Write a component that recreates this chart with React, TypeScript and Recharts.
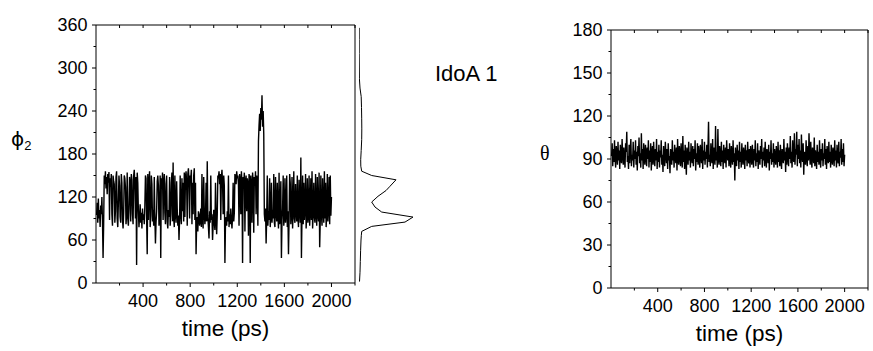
import React from "react";
import { LineChart, Line, XAxis, YAxis } from "recharts";

const FONT = '"Liberation Sans", Arial, sans-serif';

// sampling step of both trajectories (ps)
const TIME_STEP = 5;

// phi2 trajectory, 5 ps per value, 5..2000 ps
const phiValues = [
  95, 112, 84, 118, 90, 102, 78, 108, 96, 120, 88, 35, 82, 150, 138, 156, 132, 148, 124, 152,
  140, 155, 88, 146, 134, 152, 96, 80, 150, 142, 138, 84, 100, 148, 156, 90, 78, 112, 150, 136,
  92, 84, 152, 140, 88, 76, 98, 150, 146, 134, 82, 96, 154, 90, 80, 102, 148, 140, 86, 152,
  144, 96, 82, 150, 158, 138, 90, 148, 25, 154, 140, 100, 78, 92, 110, 84, 98, 76, 104, 88,
  96, 82, 108, 150, 146, 90, 40, 152, 88, 140, 156, 78, 94, 150, 138, 86, 102, 80, 148, 92,
  55, 84, 100, 142, 150, 136, 80, 96, 150, 35, 146, 132, 154, 88, 140, 152, 98, 82, 138, 150,
  86, 76, 102, 92, 148, 80, 96, 140, 154, 86, 168, 90, 78, 150, 98, 84, 142, 104, 80, 94,
  60, 88, 150, 96, 82, 146, 100, 140, 86, 154, 92, 148, 156, 138, 80, 152, 160, 142, 90, 150,
  146, 158, 82, 140, 96, 150, 160, 88, 140, 40, 84, 92, 72, 100, 96, 80, 88, 104, 78, 152,
  90, 76, 148, 98, 82, 92, 140, 86, 170, 94, 78, 62, 100, 84, 150, 88, 96, 60, 80, 102,
  86, 74, 140, 92, 68, 96, 150, 146, 156, 138, 152, 88, 148, 158, 140, 96, 150, 136, 28, 84,
  92, 80, 100, 86, 150, 78, 96, 82, 104, 88, 76, 94, 140, 86, 98, 152, 148, 138, 156, 146,
  150, 138, 80, 152, 144, 96, 156, 140, 28, 148, 136, 154, 72, 142, 150, 100, 146, 138, 66, 152,
  146, 28, 150, 138, 84, 154, 142, 70, 148, 136, 156, 96, 150, 140, 80, 198, 220, 236, 212, 244,
  228, 262, 218, 240, 208, 96, 86, 104, 55, 92, 150, 80, 100, 88, 146, 78, 96, 140, 84, 102,
  90, 152, 84, 78, 148, 100, 86, 140, 96, 76, 154, 82, 98, 142, 35, 88, 104, 150, 80, 92,
  146, 84, 96, 150, 78, 100, 40, 88, 152, 140, 82, 96, 148, 76, 104, 156, 90, 84, 138, 100,
  86, 150, 92, 78, 144, 100, 84, 175, 35, 96, 150, 82, 140, 88, 104, 152, 76, 98, 146, 84,
  94, 150, 80, 102, 146, 88, 156, 76, 98, 140, 92, 84, 152, 100, 80, 148, 96, 86, 154, 50,
  88, 150, 96, 80, 146, 102, 84, 156, 90, 140, 78, 98, 152, 86, 104, 148, 82, 150, 94, 120,
];

// theta trajectory, 5 ps per value, 5..2000 ps
const thetaValues = [
  92, 101, 85, 97, 88, 103, 90, 84, 99, 94, 86, 102, 89, 96, 83, 100, 91, 87, 104, 93,
  86, 98, 90, 84, 101, 95, 109, 88, 92, 83, 100, 87, 97, 104, 85, 93, 89, 102, 84, 96,
  90, 103, 86, 95, 82, 99, 92, 105, 87, 94, 84, 108, 89, 97, 83, 101, 91, 86, 100, 93,
  85, 98, 90, 103, 84, 96, 88, 101, 82, 94, 99, 86, 102, 91, 85, 97, 89, 104, 83, 95,
  88, 100, 84, 96, 91, 103, 86, 93, 81, 99, 90, 85, 102, 94, 87, 97, 83, 101, 89, 92,
  80, 97, 91, 86, 103, 89, 95, 84, 100, 92, 87, 98, 82, 104, 90, 86, 99, 93, 85, 101,
  91, 84, 106, 88, 96, 83, 100, 90, 79, 98, 93, 86, 102, 89, 95, 84, 101, 92, 87, 99,
  85, 97, 90, 103, 82, 94, 88, 101, 86, 99, 91, 84, 100, 93, 87, 104, 83, 96, 89, 102,
  86, 95, 90, 100, 84, 97, 116, 88, 93, 85, 101, 91, 87, 104, 83, 98, 92, 86, 113, 89,
  95, 84, 111, 90, 86, 99, 93, 85, 102, 88, 96, 83, 100, 91, 87, 98, 84, 103, 92, 89,
  97, 85, 101, 90, 84, 99, 92, 86, 103, 88, 94, 75, 98, 91, 85, 100, 89, 96, 83, 102,
  88, 95, 84, 101, 91, 86, 98, 93, 83, 100, 89, 96, 85, 102, 90, 87, 97, 84, 99, 92,
  86, 100, 91, 84, 97, 89, 103, 85, 94, 88, 101, 83, 96, 92, 86, 99, 90, 104, 84, 95,
  89, 98, 85, 102, 91, 84, 97, 93, 87, 100, 82, 95, 90, 103, 86, 94, 88, 101, 84, 97,
  91, 86, 99, 93, 84, 102, 88, 96, 85, 100, 90, 83, 97, 92, 87, 104, 89, 95, 81, 98,
  86, 101, 92, 85, 98, 90, 106, 87, 95, 84, 103, 91, 88, 108, 86, 97, 93, 109, 85, 100,
  90, 104, 87, 96, 84, 107, 92, 88, 101, 79, 95, 90, 86, 103, 92, 85, 99, 89, 108, 94,
  86, 102, 90, 84, 98, 92, 87, 105, 85, 96, 91, 83, 100, 88, 95, 86, 103, 90, 84, 97,
  89, 101, 85, 94, 90, 104, 86, 97, 83, 99, 92, 87, 102, 88, 95, 84, 100, 91, 86, 98,
  92, 85, 103, 89, 96, 84, 100, 90, 87, 102, 85, 95, 91, 104, 86, 97, 88, 101, 85, 93,
];

// phi2 distribution drawn sideways next to the left panel
const distAngles = [2, 15, 30, 45, 60, 66, 72, 79, 85, 92, 99, 106, 113, 121, 129, 135, 144, 150, 156, 163, 172, 185, 200, 215, 230, 245, 260, 272, 285, 300, 320, 340, 356];
const distCounts = [0.5, 1, 1.3, 1.6, 2, 2.3, 2.7, 12.7, 46, 54, 22.7, 16, 12.7, 19, 27, 31, 37, 12.7, 2.7, 1.8, 1.7, 2.2, 2.7, 2.8, 2.7, 2.5, 2.2, 1, 0.4, 0.3, 0.2, 0.2, 0.2];

const timeTicks = [200, 400, 600, 800, 1000, 1200, 1400, 1600, 1800, 2000, 2200];
const phiTicks = [0, 30, 60, 90, 120, 150, 180, 210, 240, 270, 300, 330, 360];
const thetaTicks = [0, 15, 30, 45, 60, 75, 90, 105, 120, 135, 150, 165, 180];

const phiData = phiValues.map((v, i) => ({ t: (i + 1) * TIME_STEP, v }));
const thetaData = thetaValues.map((v, i) => ({ t: (i + 1) * TIME_STEP, v }));
const distData = distAngles.map((a, i) => ({ angle: a, count: distCounts[i] }));

const BottomTick = ({ x, y, payload }: any) => {
  const major = payload.value % 400 === 0 && payload.value <= 2000;
  return (
    <g>
      <line x1={x} y1={y} x2={x} y2={y + (major ? 4 : 2.5)} stroke="#000" />
      {major && (
        <text x={x} y={y + 18} textAnchor="middle" dominantBaseline="central" fontSize={18} fontFamily={FONT} fill="#000">
          {payload.value}
        </text>
      )}
    </g>
  );
};

const TopTick = ({ x, y }: any) => <line x1={x} y1={y} x2={x} y2={y + 3} stroke="#000" />;
const RightTick = ({ x, y }: any) => <line x1={x} y1={y} x2={x - 3} y2={y} stroke="#000" />;

const makeLeftTick = (every: number) => ({ x, y, payload }: any) => {
  const major = payload.value % every === 0;
  return (
    <g>
      <line x1={x} y1={y} x2={x - (major ? 4 : 2.5)} y2={y} stroke="#000" />
      {major && (
        <text x={x - 8.5} y={y} textAnchor="end" dominantBaseline="central" fontSize={18} fontFamily={FONT} fill="#000">
          {payload.value}
        </text>
      )}
    </g>
  );
};

const timeLabel = ({ viewBox }: any) => (
  <text x={viewBox.x + viewBox.width / 2} y={viewBox.y + 53} textAnchor="middle" fontSize={22.5} fontFamily={FONT} fill="#000">
    time (ps)
  </text>
);

function Panel({ data, max, ticks, every, width, margin }: any) {
  return (
    <LineChart width={width} height={351} data={data} margin={margin}>
      <XAxis dataKey="t" type="number" domain={[0, 2200]} ticks={timeTicks} interval={0} height={40}
        tickSize={0} tickMargin={0} tickLine={false} stroke="#000" tick={<BottomTick />} label={timeLabel} />
      <XAxis xAxisId="top" orientation="top" dataKey="t" type="number" domain={[0, 2200]} ticks={timeTicks}
        interval={0} height={1} tickSize={0} tickMargin={0} tickLine={false} stroke="#000" tick={<TopTick />} />
      <YAxis type="number" domain={[0, max]} ticks={ticks} interval={0} width={96} tickSize={0} tickMargin={0}
        tickLine={false} stroke="#000" tick={makeLeftTick(every)} />
      <YAxis yAxisId="right" orientation="right" type="number" domain={[0, max]} ticks={ticks} interval={0}
        width={1} tickSize={0} tickMargin={0} tickLine={false} stroke="#000" tick={<RightTick />} />
      <Line dataKey="v" type="linear" stroke="#000" strokeWidth={1.4} dot={false} isAnimationActive={false} />
    </LineChart>
  );
}

export default function App() {
  return (
    <div style={{ position: "absolute", left: 0, top: 0, width: 873, height: 351, background: "#fff", fontFamily: FONT }}>
      <div style={{ position: "absolute", left: 0, top: 0 }}>
        <Panel data={phiData} max={360} ticks={phiTicks} every={60} width={380}
          margin={{ top: 24, right: 24, bottom: 28, left: 0 }} />
      </div>
      <div style={{ position: "absolute", left: 359, top: 0 }}>
        <LineChart layout="vertical" width={70} height={351} data={distData}
          margin={{ top: 25, right: 10, bottom: 68, left: 0 }}>
          <XAxis type="number" domain={[0, 60]} hide />
          <YAxis type="number" dataKey="angle" domain={[0, 360]} reversed hide />
          <Line dataKey="count" type="linear" stroke="#000" strokeWidth={1} dot={false} isAnimationActive={false} />
        </LineChart>
      </div>
      <div style={{ position: "absolute", left: 514, top: 0 }}>
        <Panel data={thetaData} max={180} ticks={thetaTicks} every={30} width={359}
          margin={{ top: 29, right: 4, bottom: 23, left: 1 }} />
      </div>
      <svg width={873} height={351} style={{ position: "absolute", left: 0, top: 0, pointerEvents: "none" }}>
        <text x={11} y={146} fontSize={20} fontFamily='"DejaVu Sans", sans-serif' fill="#000">
          ϕ<tspan fontSize={13} dy={4} fontFamily={FONT}>2</tspan>
        </text>
        <text x={540} y={160} fontSize={20} fontFamily='"Liberation Serif", serif' fill="#000">θ</text>
        <text x={435} y={81} fontSize={22} fontFamily={FONT} fill="#000">IdoA 1</text>
      </svg>
    </div>
  );
}
